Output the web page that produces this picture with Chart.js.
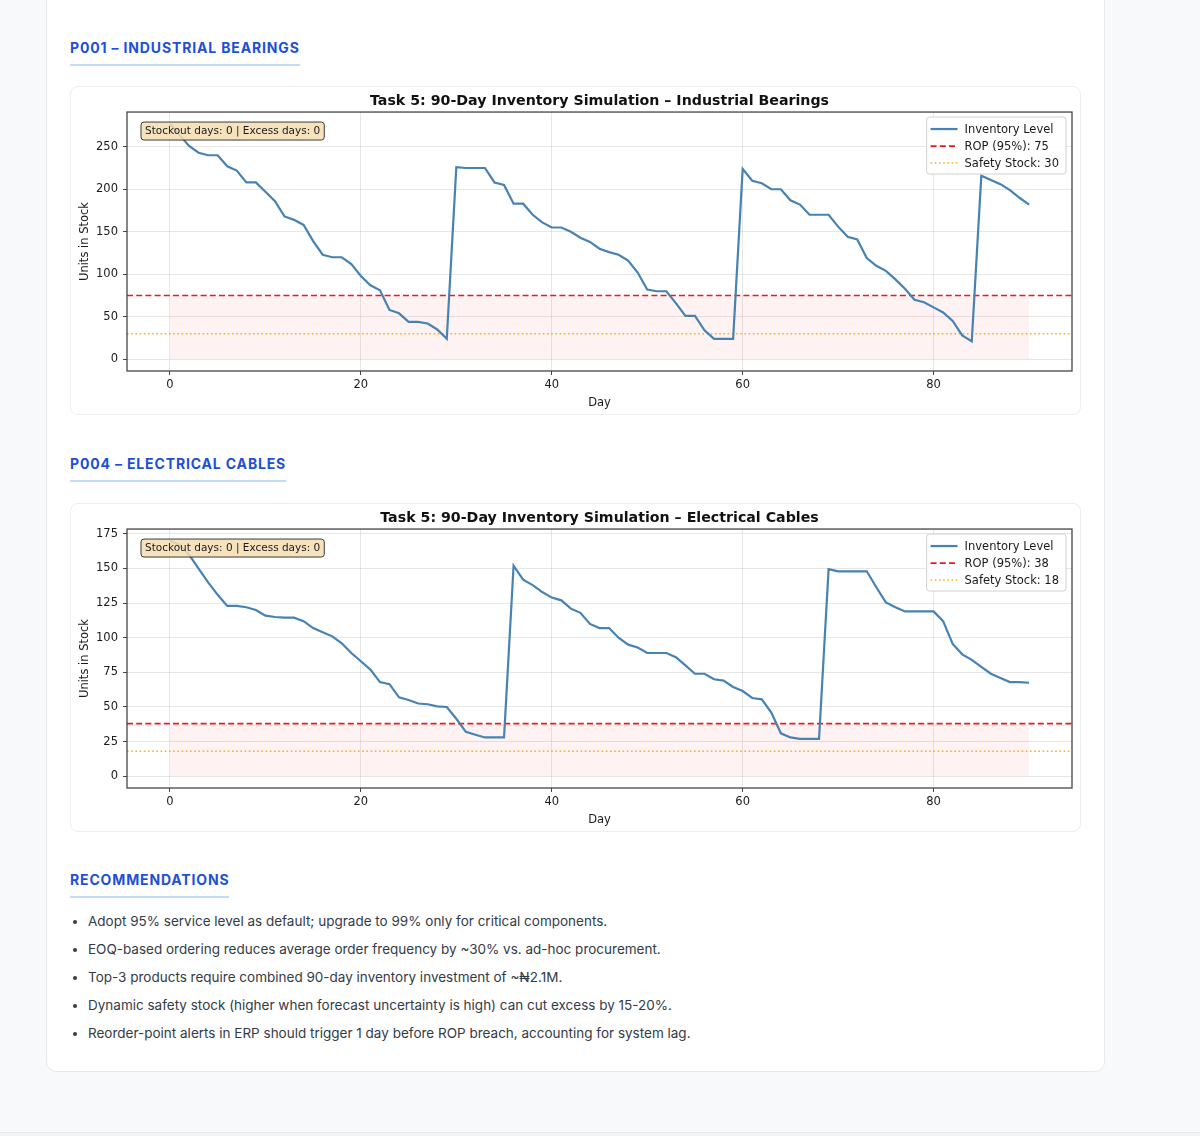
<!DOCTYPE html>
<html>
<head>
<meta charset="utf-8">
<script src="https://cdn.jsdelivr.net/npm/chart.js@4.4.1/dist/chart.umd.min.js"></script>
<style>
    html, body { margin: 0; padding: 0; }
    body {
        width: 1200px; height: 1136px; position: relative; overflow: hidden;
        background: #f8f9fb; font-family: Inter, "Noto Sans", sans-serif;
    }
    .card {
        position: absolute; left: 46px; top: -40px; width: 1057px; height: 1110px;
        background: #fff; border: 1px solid #e6e8ec; border-radius: 10px;
    }
    .section-title {
        position: absolute; left: 70px; margin: 0;
        font-size: 14px; line-height: 20px; font-weight: 700; letter-spacing: 0.85px;
        color: #1e4fd8; padding-bottom: 6px; border-bottom: 2px solid #c4dafb;
    }
    .chart-box {
        position: absolute; left: 70px; width: 1009px; height: 327px;
        background: #fff; border: 1px solid #eceef1; border-radius: 8px;
    }
    .chart-box canvas { position: absolute; left: 0; top: 0; }
    ul.recs {
        position: absolute; left: 70px; top: 907px; margin: 0; padding-left: 18px;
        font-size: 13.5px; line-height: 28px; color: #333b47;
    }
    ul.recs li { padding-left: 0; }
    .footer-line {
        position: absolute; left: 0; right: 0; top: 1132px; height: 4px;
        border-top: 1px solid #e6e8ec; background: #f3f4f6;
    }
</style>
</head>
<body>
<div class="card"></div>

<h3 class="section-title" style="top:38px">P001 – INDUSTRIAL BEARINGS</h3>
<div class="chart-box" style="top:86px"><canvas id="chartP001" width="1009" height="327"></canvas></div>

<h3 class="section-title" style="top:454px">P004 – ELECTRICAL CABLES</h3>
<div class="chart-box" style="top:503px"><canvas id="chartP004" width="1009" height="327"></canvas></div>

<h3 class="section-title" style="top:870px">RECOMMENDATIONS</h3>
<ul class="recs">
    <li>Adopt 95% service level as default; upgrade to 99% only for critical components.</li>
    <li>EOQ-based ordering reduces average order frequency by ~30% vs. ad-hoc procurement.</li>
    <li>Top-3 products require combined 90-day inventory investment of ~₦2.1M.</li>
    <li>Dynamic safety stock (higher when forecast uncertainty is high) can cut excess by 15-20%.</li>
    <li>Reorder-point alerts in ERP should trigger 1 day before ROP breach, accounting for system lag.</li>
</ul>
<div class="footer-line"></div>

<script>
// Data
const DAYS = Array.from({ length: 91 }, (_, i) => i);
const X_TICKS = [0, 20, 40, 60, 80];

const P001_LEVEL = [
    277, 264, 251, 243, 240, 240, 227, 222, 208, 208,
    197, 186, 168, 164, 158, 139, 123, 120, 120, 112,
    98, 87, 81, 58, 54, 44, 44, 42, 35, 24,
    226, 225, 225, 225, 208, 205, 183, 183, 170, 161,
    155, 155, 150, 143, 138, 130, 126, 123, 116, 102,
    82, 80, 80, 66, 51, 51, 34, 24, 24, 24,
    224, 210, 207, 200, 200, 187, 182, 170, 170, 170,
    156, 144, 141, 119, 110, 104, 94, 83, 70, 67,
    61, 55, 45, 28, 21, 216, 211, 206, 199, 190,
    182
];
const P001_ROP = 75;
const P001_SAFETY = 30;
const P001_Y_TICKS = [0, 50, 100, 150, 200, 250];

const P004_LEVEL = [
    170, 167, 160, 150, 140, 131, 123, 123, 122, 120,
    116, 115, 114.5, 114.5, 112, 107, 104, 101, 96, 89,
    83, 77, 68, 66.5, 57, 55, 52.5, 52, 50.5, 50,
    41.5, 32, 30, 28, 28, 28, 152, 142, 138, 133,
    129, 127, 121, 118, 110, 107, 107, 100, 95, 93,
    89, 89, 89, 86, 80, 74, 74, 70, 69, 64.5,
    61.5, 56.5, 55.5, 46, 31, 28, 27, 27, 27, 149.5,
    148, 148, 148, 148, 136.5, 125.5, 122, 119, 119, 119,
    119, 112, 95.5, 88, 84, 79, 74, 71, 68, 68,
    67.5
];
const P004_ROP = 38;
const P004_SAFETY = 18;
const P004_Y_TICKS = [0, 25, 50, 75, 100, 125, 150, 175];

const STATS_TEXT = 'Stockout days: 0 | Excess days: 0';

// Styles
const FONT = '"DejaVu Sans", Verdana, sans-serif';
const TEXT_COLOR = '#1a1a1a';
const LINE_BLUE = '#4682b4';
const ROP_RED = '#f5161b';
const SAFETY_ORANGE = 'rgba(255, 165, 0, 0.9)';
const GRID_COLOR = 'rgba(176, 176, 176, 0.3)';

Chart.defaults.font.family = FONT;
Chart.defaults.color = TEXT_COLOR;

// Frame, stats box and legend drawn inside the plot area
const overlayPlugin = {
    id: 'overlay',
    afterDatasetsDraw(chart, args, opts) {
        const { ctx, chartArea: a } = chart;
        ctx.save();

        // axes frame
        ctx.strokeStyle = '#454545';
        ctx.lineWidth = 1.3;
        ctx.strokeRect(a.left, a.top, a.right - a.left, a.bottom - a.top);

        // stats box (top-left)
        ctx.font = '10.5px ' + FONT;
        const tw = ctx.measureText(STATS_TEXT).width;
        const bx = a.left + 14, by = a.top + 10;
        ctx.beginPath();
        ctx.roundRect(bx, by, tw + 8, 18, 3);
        ctx.fillStyle = 'rgba(245, 222, 179, 0.85)';
        ctx.fill();
        ctx.strokeStyle = '#3a3a3a';
        ctx.lineWidth = 1;
        ctx.stroke();
        ctx.fillStyle = TEXT_COLOR;
        ctx.textBaseline = 'middle';
        ctx.fillText(STATS_TEXT, bx + 4, by + 9.5);

        // legend (top-right)
        ctx.font = '11.5px ' + FONT;
        const items = opts.items;
        const maxW = Math.max(...items.map(it => ctx.measureText(it.label).width));
        const lw = maxW + 45, lh = 57;
        const lx = a.right - 6 - lw, ly = a.top + 5;
        ctx.beginPath();
        ctx.roundRect(lx, ly, lw, lh, 3);
        ctx.fillStyle = 'rgba(255, 255, 255, 0.85)';
        ctx.fill();
        ctx.strokeStyle = '#d0d0d0';
        ctx.stroke();
        items.forEach((it, i) => {
            const y = ly + 12 + i * 17;
            ctx.beginPath();
            ctx.setLineDash(it.dash);
            ctx.strokeStyle = it.color;
            ctx.lineWidth = it.width;
            ctx.moveTo(lx + 4, y);
            ctx.lineTo(lx + 31, y);
            ctx.stroke();
            ctx.setLineDash([]);
            ctx.fillStyle = TEXT_COLOR;
            ctx.fillText(it.label, lx + 38, y + 0.5);
        });

        ctx.restore();
    }
};

function drawInventoryChart(canvasId, name, level, rop, safety, yTicks) {
    const yMax = Math.max(...level);
    const yPad = yMax * 0.05;
    const xMin = DAYS[0] - 4.5;
    const xMax = DAYS[DAYS.length - 1] + 4.5;

    const ropLabel = `ROP (95%): ${rop}`;
    const safetyLabel = `Safety Stock: ${safety}`;
    const ropDash = [6, 3.2];
    const safetyDash = [1.6, 2.6];

    new Chart(document.getElementById(canvasId), {
        type: 'line',
        data: {
            datasets: [
                {
                    label: 'Inventory Level',
                    data: DAYS.map((d, i) => ({ x: d, y: level[i] })),
                    borderColor: LINE_BLUE,
                    borderWidth: 2.2,
                    pointRadius: 0,
                    tension: 0
                },
                {
                    label: ropLabel,
                    data: [{ x: xMin, y: rop }, { x: xMax, y: rop }],
                    borderColor: ROP_RED,
                    borderWidth: 1.7,
                    borderDash: ropDash,
                    pointRadius: 0
                },
                {
                    label: safetyLabel,
                    data: [{ x: xMin, y: safety }, { x: xMax, y: safety }],
                    borderColor: SAFETY_ORANGE,
                    borderWidth: 1.6,
                    borderDash: safetyDash,
                    pointRadius: 0
                },
                {
                    label: 'risk zone',
                    data: [{ x: DAYS[0], y: rop }, { x: DAYS[DAYS.length - 1], y: rop }],
                    borderWidth: 0,
                    pointRadius: 0,
                    fill: 'origin',
                    backgroundColor: 'rgba(255, 0, 0, 0.05)'
                }
            ]
        },
        options: {
            responsive: false,
            animation: false,
            devicePixelRatio: 1,
            layout: { padding: { top: 0, right: 8, bottom: 0, left: 0 } },
            plugins: {
                legend: { display: false },
                tooltip: { enabled: false },
                title: {
                    display: true,
                    fullSize: false,
                    text: `Task 5: 90-Day Inventory Simulation – ${name}`,
                    color: '#111',
                    font: { size: 14.2, weight: 'bold', family: FONT },
                    lineHeight: 1.2,
                    padding: { top: 6, bottom: 2 }
                },
                overlay: {
                    items: [
                        { label: 'Inventory Level', color: LINE_BLUE, width: 2.2, dash: [] },
                        { label: ropLabel, color: ROP_RED, width: 1.7, dash: ropDash },
                        { label: safetyLabel, color: SAFETY_ORANGE, width: 1.6, dash: safetyDash }
                    ]
                }
            },
            scales: {
                x: {
                    type: 'linear',
                    min: xMin,
                    max: xMax,
                    afterBuildTicks: axis => { axis.ticks = X_TICKS.map(v => ({ value: v })); },
                    afterFit: scale => { scale.height = 43; },
                    ticks: { autoSkip: false, maxRotation: 0, padding: 3, font: { size: 11.5 }, color: TEXT_COLOR },
                    grid: { color: GRID_COLOR, tickColor: '#454545', tickLength: 4 },
                    border: { display: false },
                    title: { display: true, text: 'Day', font: { size: 11.5 }, color: TEXT_COLOR, padding: { top: 4, bottom: 4 } }
                },
                y: {
                    min: -yPad,
                    max: yMax + yPad,
                    afterBuildTicks: axis => { axis.ticks = yTicks.map(v => ({ value: v })); },
                    afterFit: scale => { scale.width = 56; },
                    ticks: { autoSkip: false, padding: 5, font: { size: 11.5 }, color: TEXT_COLOR },
                    grid: { color: GRID_COLOR, tickColor: '#454545', tickLength: 4 },
                    border: { display: false },
                    title: { display: true, text: 'Units in Stock', font: { size: 11.5 }, color: TEXT_COLOR, padding: { top: 7, bottom: 4 } }
                }
            }
        },
        plugins: [overlayPlugin]
    });
}

drawInventoryChart('chartP001', 'Industrial Bearings', P001_LEVEL, P001_ROP, P001_SAFETY, P001_Y_TICKS);
drawInventoryChart('chartP004', 'Electrical Cables', P004_LEVEL, P004_ROP, P004_SAFETY, P004_Y_TICKS);
</script>
</body>
</html>
